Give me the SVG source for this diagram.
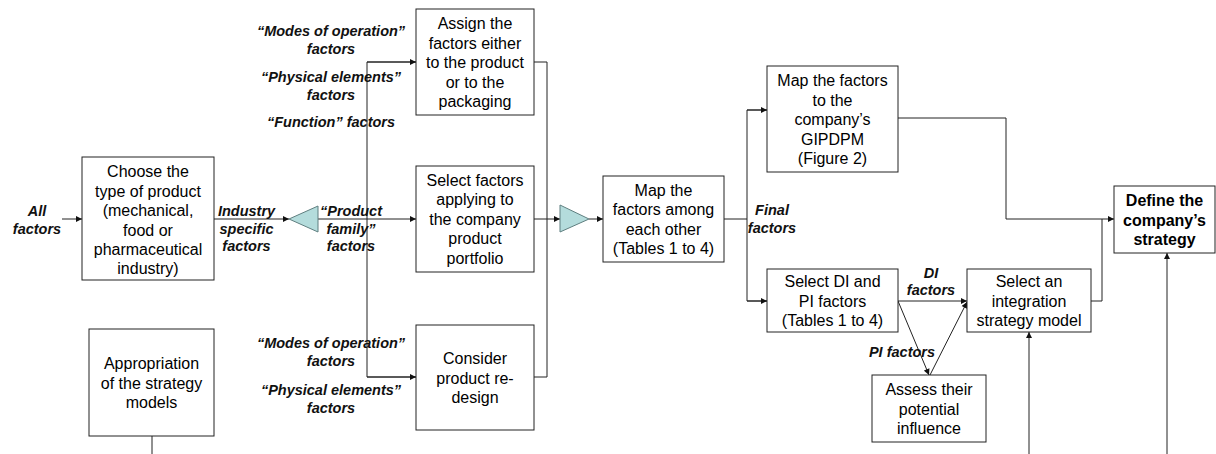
<svg xmlns="http://www.w3.org/2000/svg" width="1216" height="454" viewBox="0 0 1216 454">
<style>
.box{fill:#fff;stroke:#222;stroke-width:1}
.t{font-family:"Liberation Sans",Arial,sans-serif;font-size:16px;fill:#000;text-anchor:middle}
.b{font-weight:bold}
.l{font-family:"Liberation Sans",Arial,sans-serif;font-size:14.5px;font-weight:bold;font-style:italic;fill:#111;text-anchor:middle}
.c{fill:none;stroke:#222;stroke-width:1}
.tri{fill:#b4dcdc;stroke:#5f7f80;stroke-width:1}
</style>
<defs>
<marker id="ah" viewBox="0 0 10 10" refX="10" refY="5" markerWidth="7" markerHeight="6" markerUnits="userSpaceOnUse" orient="auto">
<path d="M0,0 L10,5 L0,10 z" fill="#111"/>
</marker>
</defs>
<rect width="1216" height="454" fill="#fff"/>

<g id="connectors">
<line class="c" x1="62" y1="219" x2="82" y2="219" marker-end="url(#ah)"/>
<line class="c" x1="214" y1="219" x2="289" y2="219" marker-end="url(#ah)"/>
<line class="c" x1="318" y1="219" x2="416" y2="219" marker-end="url(#ah)"/>
<polyline class="c" points="416,62 367,62 367,377 416,377"/>
<line class="c" x1="367" y1="62" x2="416" y2="62" marker-end="url(#ah)"/>
<line class="c" x1="367" y1="377" x2="416" y2="377" marker-end="url(#ah)"/>
<polyline class="c" points="534,62 547,62 547,377 534,377"/>
<line class="c" x1="534" y1="219" x2="560" y2="219" marker-end="url(#ah)"/>
<line class="c" x1="589" y1="219" x2="603" y2="219" marker-end="url(#ah)"/>
<polyline class="c" points="724,219 747,219"/>
<polyline class="c" points="767,110 747,110 747,301 767,301"/>
<line class="c" x1="747" y1="110" x2="767" y2="110" marker-end="url(#ah)"/>
<line class="c" x1="747" y1="301" x2="767" y2="301" marker-end="url(#ah)"/>
<polyline class="c" points="898,118 1006,118 1006,219 1114,219" marker-end="url(#ah)"/>
<polyline class="c" points="1091,301 1102,301 1102,219"/>
<line class="c" x1="898" y1="301" x2="967" y2="301" marker-end="url(#ah)"/>
<line class="c" x1="898" y1="301" x2="929" y2="375" marker-end="url(#ah)"/>
<line class="c" x1="930" y1="375" x2="967" y2="302" marker-end="url(#ah)"/>
<line class="c" x1="1029" y1="454" x2="1029" y2="332" marker-end="url(#ah)"/>
<line class="c" x1="1167" y1="454" x2="1167" y2="253" marker-end="url(#ah)"/>
<line class="c" x1="152" y1="436" x2="152" y2="454"/>
</g>

<g id="merge1"><polygon class="tri" points="289,219 318,206 318,232"/></g>
<g id="merge2"><polygon class="tri" points="560,205 589,219 560,232"/></g>

<g id="n-choose">
<rect class="box" x="82" y="157" width="132" height="123"/>
<text class="t" x="148" y="177">Choose the</text>
<text class="t" x="148" y="196.5">type of product</text>
<text class="t" x="148" y="216">(mechanical,</text>
<text class="t" x="148" y="235.5">food or</text>
<text class="t" x="148" y="255">pharmaceutical</text>
<text class="t" x="148" y="274">industry)</text>
</g>

<g id="n-appropriation">
<rect class="box" x="89" y="329" width="125" height="107"/>
<text class="t" x="151.5" y="369">Appropriation</text>
<text class="t" x="151.5" y="388.5">of the strategy</text>
<text class="t" x="151.5" y="408">models</text>
</g>

<g id="n-assign">
<rect class="box" x="416" y="9" width="118" height="106"/>
<text class="t" x="475" y="29">Assign the</text>
<text class="t" x="475" y="48.5">factors either</text>
<text class="t" x="475" y="68">to the product</text>
<text class="t" x="475" y="87.5">or to the</text>
<text class="t" x="475" y="107">packaging</text>
</g>

<g id="n-select">
<rect class="box" x="416" y="166" width="118" height="106"/>
<text class="t" x="475" y="185.5">Select factors</text>
<text class="t" x="475" y="205">applying to</text>
<text class="t" x="475" y="224.5">the company</text>
<text class="t" x="475" y="244">product</text>
<text class="t" x="475" y="263.5">portfolio</text>
</g>

<g id="n-consider">
<rect class="box" x="416" y="325" width="118" height="105"/>
<text class="t" x="475" y="364">Consider</text>
<text class="t" x="475" y="383.5">product re-</text>
<text class="t" x="475" y="403">design</text>
</g>

<g id="n-map">
<rect class="box" x="603" y="176" width="121" height="86"/>
<text class="t" x="663.5" y="195.5">Map the</text>
<text class="t" x="663.5" y="215">factors among</text>
<text class="t" x="663.5" y="234.5">each other</text>
<text class="t" x="663.5" y="254">(Tables 1 to 4)</text>
</g>

<g id="n-gipdpm">
<rect class="box" x="767" y="66" width="131" height="106"/>
<text class="t" x="832.5" y="86">Map the factors</text>
<text class="t" x="832.5" y="105.5">to the</text>
<text class="t" x="832.5" y="125">company’s</text>
<text class="t" x="832.5" y="144.5">GIPDPM</text>
<text class="t" x="832.5" y="164">(Figure 2)</text>
</g>

<g id="n-define">
<rect class="box" x="1114" y="186" width="101" height="67"/>
<text class="t b" x="1164.5" y="206">Define the</text>
<text class="t b" x="1164.5" y="225.5">company’s</text>
<text class="t b" x="1164.5" y="245">strategy</text>
</g>

<g id="n-selectdi">
<rect class="box" x="767" y="269" width="131" height="63"/>
<text class="t" x="832.5" y="287">Select DI and</text>
<text class="t" x="832.5" y="306.5">PI factors</text>
<text class="t" x="832.5" y="326">(Tables 1 to 4)</text>
</g>

<g id="n-integration">
<rect class="box" x="967" y="269" width="124" height="63"/>
<text class="t" x="1029" y="287">Select an</text>
<text class="t" x="1029" y="306.5">integration</text>
<text class="t" x="1029" y="326">strategy model</text>
</g>

<g id="n-assess">
<rect class="box" x="872" y="375" width="114" height="67"/>
<text class="t" x="929" y="395">Assess their</text>
<text class="t" x="929" y="414.5">potential</text>
<text class="t" x="929" y="434">influence</text>
</g>

<g id="labels">
<text class="l" x="37" y="216">All</text>
<text class="l" x="37" y="234">factors</text>
<text class="l" x="246.5" y="216">Industry</text>
<text class="l" x="246.5" y="233.5">specific</text>
<text class="l" x="246.5" y="251">factors</text>
<text class="l" x="351" y="216">“Product</text>
<text class="l" x="351" y="233.5">family”</text>
<text class="l" x="351" y="251">factors</text>
<text class="l" x="331" y="36">“Modes of operation”</text>
<text class="l" x="331" y="53.5">factors</text>
<text class="l" x="331" y="82">“Physical elements”</text>
<text class="l" x="331" y="100">factors</text>
<text class="l" x="331" y="127">“Function” factors</text>
<text class="l" x="331" y="348">“Modes of operation”</text>
<text class="l" x="331" y="366">factors</text>
<text class="l" x="331" y="395">“Physical elements”</text>
<text class="l" x="331" y="413">factors</text>
<text class="l" x="772" y="215">Final</text>
<text class="l" x="772" y="233">factors</text>
<text class="l" x="931" y="278">DI</text>
<text class="l" x="931" y="295">factors</text>
<text class="l" x="902" y="357">PI factors</text>
</g>
</svg>
